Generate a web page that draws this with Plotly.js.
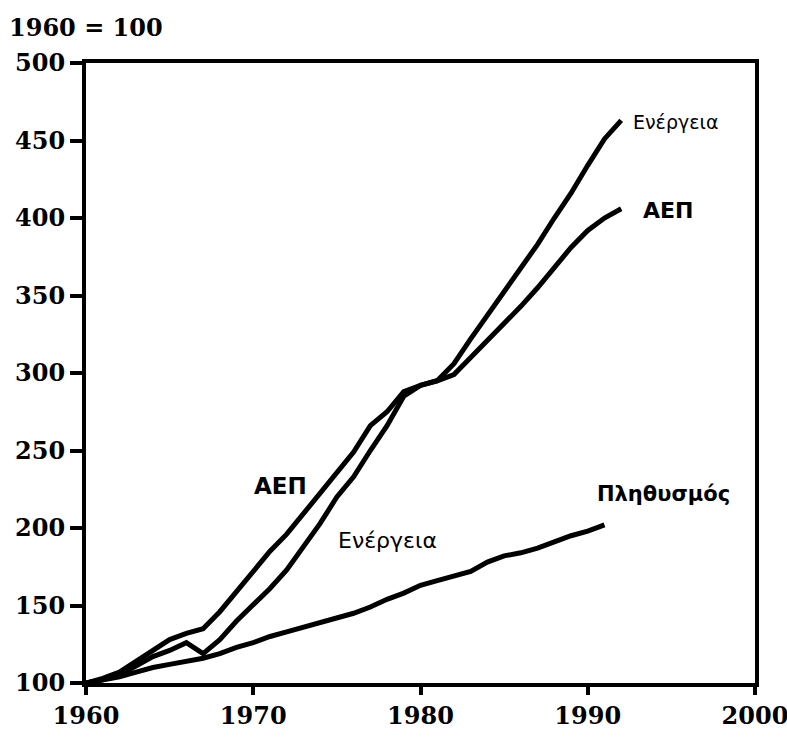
<!DOCTYPE html>
<html>
<head>
<meta charset="utf-8">
<script src="https://cdn.plot.ly/plotly-3.0.1.min.js"></script>
<style>
html,body{margin:0;padding:0;background:#fff;}
#chart{width:787px;height:739px;}
</style>
</head>
<body>
<div id="chart"></div>
<script>
const years = [1960,1961,1962,1963,1964,1965,1966,1967,1968,1969,1970,1971,1972,1973,1974,1975,1976,1977,1978,1979,1980,1981,1982,1983,1984,1985,1986,1987,1988,1989,1990,1991,1992];
const energy = [100,102,105,111,117,121,126,119,128,140,150,161,173,188,203,220,233,250,266,285,292,295,306,322,337,352,367,383,400,416,434,451,463];
const gdp = [100,103,107,114,121,128,132,135,146,159,172,185,196,209,222,235,249,266,275,288,292,295,299,310,321,331,343,355,368,381,392,400,406];
const popYears = [1960,1961,1962,1963,1964,1965,1966,1967,1968,1969,1970,1971,1972,1973,1974,1975,1976,1977,1978,1979,1980,1981,1982,1983,1984,1985,1986,1987,1988,1989,1990,1991];
const population = [100,102,104,107,110,112,114,116,119,123,126,130,133,136,139,142,145,149,154,158,163,166,169,172,178,182,184,187,191,195,198,202];

const xTicks = [1960,1970,1980,1990,2000];
const yTicks = [100,150,200,250,300,350,400,450,500];
const titleText = "1960 = 100";

const lineStyle = {color:'#000', width:5};
const traces = [
  {x: years, y: energy, name: 'Ενέργεια', mode: 'lines', line: lineStyle},
  {x: years, y: gdp, name: 'ΑΕΠ', mode: 'lines', line: lineStyle},
  {x: popYears, y: population, name: 'Πληθυσμός', mode: 'lines', line: lineStyle}
];

const tickFont = {family: 'DejaVu Serif', size: 24, color: '#000', weight: 'bold'};

const layout = {
  width: 787, height: 739,
  margin: {l: 86, r: 32, t: 63, b: 56, autoexpand: false},
  paper_bgcolor: '#fff', plot_bgcolor: '#fff',
  showlegend: false,
  font: {family: 'DejaVu Serif', color: '#000'},
  xaxis: {
    range: [1960, 2000], tickvals: xTicks, ticktext: xTicks.map(String),
    showgrid: false, zeroline: false, automargin: false,
    showline: true, linecolor: '#000', linewidth: 4, mirror: true,
    ticks: 'outside', ticklen: 8, tickwidth: 4, tickcolor: '#000',
    ticklabeloverflow: 'allow',
    tickfont: tickFont
  },
  yaxis: {
    range: [100, 500], tickvals: yTicks, ticktext: yTicks.map(String),
    showgrid: false, zeroline: false, automargin: false,
    showline: true, linecolor: '#000', linewidth: 4, mirror: true,
    ticks: 'outside', ticklen: 12, tickwidth: 4, tickcolor: '#000',
    ticklabeloverflow: 'allow',
    tickfont: tickFont
  },
  annotations: [
    {xref: 'paper', yref: 'paper', x: -0.118, y: 1.057, xanchor: 'left', yanchor: 'middle',
     text: titleText, showarrow: false, font: tickFont},
    {x: 1992.6, y: 462, xanchor: 'left', yanchor: 'middle', text: 'Ενέργεια', showarrow: false,
     font: {family: 'DejaVu Sans', size: 19, color: '#000'}},
    {x: 1993.2, y: 405, xanchor: 'left', yanchor: 'middle', text: 'ΑΕΠ', showarrow: false,
     font: {family: 'DejaVu Sans', size: 22, color: '#000', weight: 'bold'}},
    {x: 1971.6, y: 227, xanchor: 'center', yanchor: 'middle', text: 'ΑΕΠ', showarrow: false,
     font: {family: 'DejaVu Sans', size: 23, color: '#000', weight: 'bold'}},
    {x: 1978.0, y: 192, xanchor: 'center', yanchor: 'middle', text: 'Ενέργεια', showarrow: false,
     font: {family: 'DejaVu Sans', size: 22, color: '#000'}},
    {x: 1994.5, y: 222, xanchor: 'center', yanchor: 'middle', text: 'Πληθυσμός', showarrow: false,
     font: {family: 'DejaVu Sans', size: 21, color: '#000', weight: 'bold'}}
  ]
};

Plotly.newPlot('chart', traces, layout, {displayModeBar: false, staticPlot: true});
</script>
</body>
</html>
